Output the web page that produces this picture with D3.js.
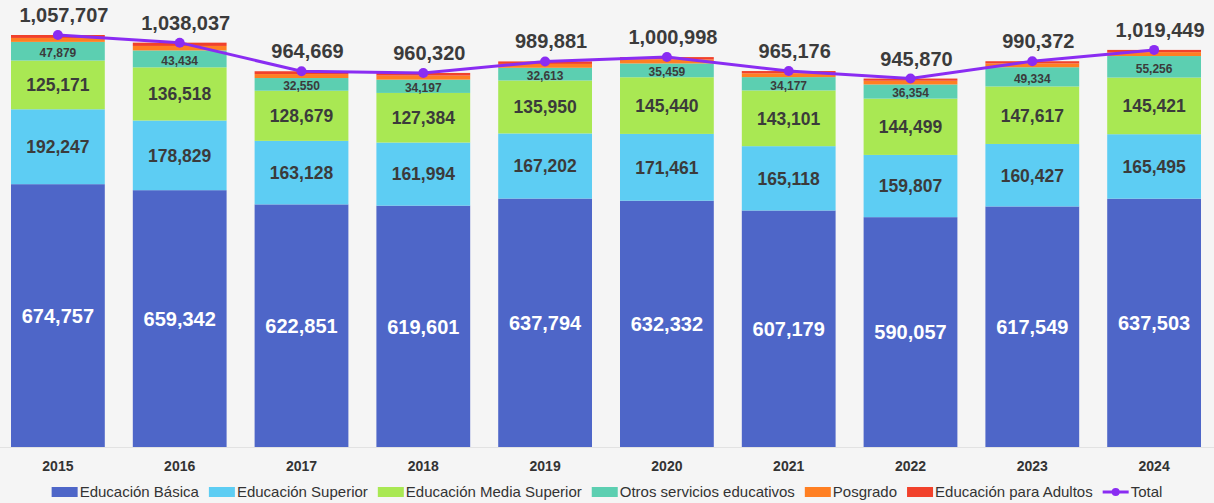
<!DOCTYPE html>
<html>
<head>
<meta charset="utf-8">
<script src="https://cdn.jsdelivr.net/npm/d3@7"></script>
<style>
  body { margin: 0; background: #f5f5f5; }
  svg { display: block; font-family: "Liberation Sans", Arial, sans-serif; }
</style>
</head>
<body>
<svg id="chart" width="1214" height="503"></svg>
<script>
'use strict';

// data
let years = ['2015', '2016', '2017', '2018', '2019', '2020', '2021', '2022', '2023', '2024'];
let basica = [674757, 659342, 622851, 619601, 637794, 632332, 607179, 590057, 617549, 637503];
let superior = [192247, 178829, 163128, 161994, 167202, 171461, 165118, 159807, 160427, 165495];
let mediaSuperior = [125171, 136518, 128679, 127384, 135950, 145440, 143101, 144499, 147617, 145421];
let otros = [47879, 43434, 32550, 34197, 32613, 35459, 34177, 36354, 49334, 55256];
let posgrado = [10100, 11500, 10200, 10400, 9900, 10100, 9800, 9600, 9800, 10000];
let adultos = [7553, 8414, 7261, 6744, 6422, 6206, 5801, 5553, 5645, 5774];
let totals = [1057707, 1038037, 964669, 960320, 989881, 1000998, 965176, 945870, 990372, 1019449];

let seriesNames = ['Educación Básica', 'Educación Superior', 'Educación Media Superior',
    'Otros servicios educativos', 'Posgrado', 'Educación para Adultos'];
let seriesValues = [basica, superior, mediaSuperior, otros, posgrado, adultos];
let colors = ['#4e66c8', '#5dcdf3', '#a9e853', '#5ccfb1', '#ff7f22', '#f1412b'];
let totalColor = '#8a2cf2';

let svg = d3.select('#chart');
let g = svg.append('g');

let x = d3.scaleBand().domain(years).range([-3, 1215])
    .paddingInner(0.23).paddingOuter(0.115);
let y = d3.scaleLinear().domain([0, 1057707]).range([447, 35]);

// build rows for the stack
let rows = years.map(function(yr, i) {
    let row = { year: yr };
    seriesNames.forEach(function(name, j) {
        row[name] = seriesValues[j][i];
    });
    return row;
});
let stacked = d3.stack().keys(seriesNames)(rows);

let layers = g.selectAll('g.layer')
    .data(stacked)
    .enter().append('g')
    .attr('class', 'layer')
    .attr('fill', function(d, i) { return colors[i]; });

layers.selectAll('rect')
    .data(function(d) { return d; })
    .enter().append('rect')
    .attr('x', function(d) { return x(d.data.year); })
    .attr('width', x.bandwidth())
    .attr('y', function(d) { return y(d[1]); })
    .attr('height', function(d) { return y(d[0]) - y(d[1]); });

// segment labels (only the first four series)
let labelStyle = [
    { size: 20, color: '#ffffff' },
    { size: 17.5, color: '#3b3b3b' },
    { size: 17.5, color: '#3b3b3b' },
    { size: 12, color: '#3b3b3b' }
];
stacked.slice(0, 4).forEach(function(layer, i) {
    g.selectAll('text.seg' + i)
        .data(layer)
        .enter().append('text')
        .attr('class', 'seg' + i)
        .attr('x', function(d) { return x(d.data.year) + x.bandwidth() / 2; })
        .attr('y', function(d) { return (y(d[0]) + y(d[1])) / 2 + (i === 3 ? 1.5 : 0); })
        .attr('dy', '0.36em')
        .attr('text-anchor', 'middle')
        .style('font-size', labelStyle[i].size + 'px')
        .style('font-weight', 'bold')
        .style('fill', labelStyle[i].color)
        .text(function(d) { return d3.format(',')(d[1] - d[0]); });
});

// total line
let line = d3.line()
    .x(function(d, i) { return x(years[i]) + x.bandwidth() / 2; })
    .y(function(d) { return y(d); });

g.append('path')
    .datum(totals)
    .attr('d', line)
    .attr('fill', 'none')
    .attr('stroke', totalColor)
    .attr('stroke-width', 3);

g.selectAll('circle.tot')
    .data(totals)
    .enter().append('circle')
    .attr('class', 'tot')
    .attr('cx', function(d, i) { return x(years[i]) + x.bandwidth() / 2; })
    .attr('cy', function(d) { return y(d); })
    .attr('r', 5)
    .attr('fill', totalColor);

g.selectAll('text.tot')
    .data(totals)
    .enter().append('text')
    .attr('class', 'tot')
    .attr('x', function(d, i) { return x(years[i]) + x.bandwidth() / 2 + 6; })
    .attr('y', function(d) { return y(d) - 13; })
    .attr('text-anchor', 'middle')
    .style('font-size', '20px')
    .style('font-weight', 'bold')
    .style('fill', '#3b3b3b')
    .text(function(d) { return d3.format(',')(d); });

// x axis
let xAxis = d3.axisBottom(x).tickSize(0).tickPadding(14);
let gX = g.append('g')
    .attr('transform', 'translate(0,447)')
    .call(xAxis);
gX.select('.domain').attr('stroke', '#e2e2e2');
gX.selectAll('text')
    .style('font-family', '"Liberation Sans", Arial, sans-serif')
    .style('font-size', '14px')
    .style('font-weight', 'bold')
    .style('fill', '#333');

// legend
let legendItems = seriesNames.concat(['Total']);
let legend = svg.append('g').attr('transform', 'translate(0,492)');
let lx = 0;
let items = [];
legendItems.forEach(function(name, i) {
    let item = legend.append('g');
    if (i < seriesNames.length) {
        item.append('rect')
            .attr('x', 0).attr('y', -5)
            .attr('width', 26).attr('height', 10)
            .attr('fill', colors[i]);
    } else {
        item.append('line')
            .attr('x1', 0).attr('x2', 26).attr('y1', 0).attr('y2', 0)
            .attr('stroke', totalColor).attr('stroke-width', 3);
        item.append('circle')
            .attr('cx', 13).attr('cy', 0).attr('r', 4)
            .attr('fill', totalColor);
    }
    let t = item.append('text')
        .attr('x', 28).attr('dy', '0.35em')
        .style('font-size', '15px')
        .style('fill', '#333')
        .text(name);
    let w = 28 + t.node().getComputedTextLength();
    items.push({ node: item, x: lx });
    lx += w + 10;
});
let offset = (1214 - (lx - 10)) / 2;
items.forEach(function(it) {
    it.node.attr('transform', 'translate(' + (offset + it.x) + ',0)');
});
</script>
</body>
</html>
